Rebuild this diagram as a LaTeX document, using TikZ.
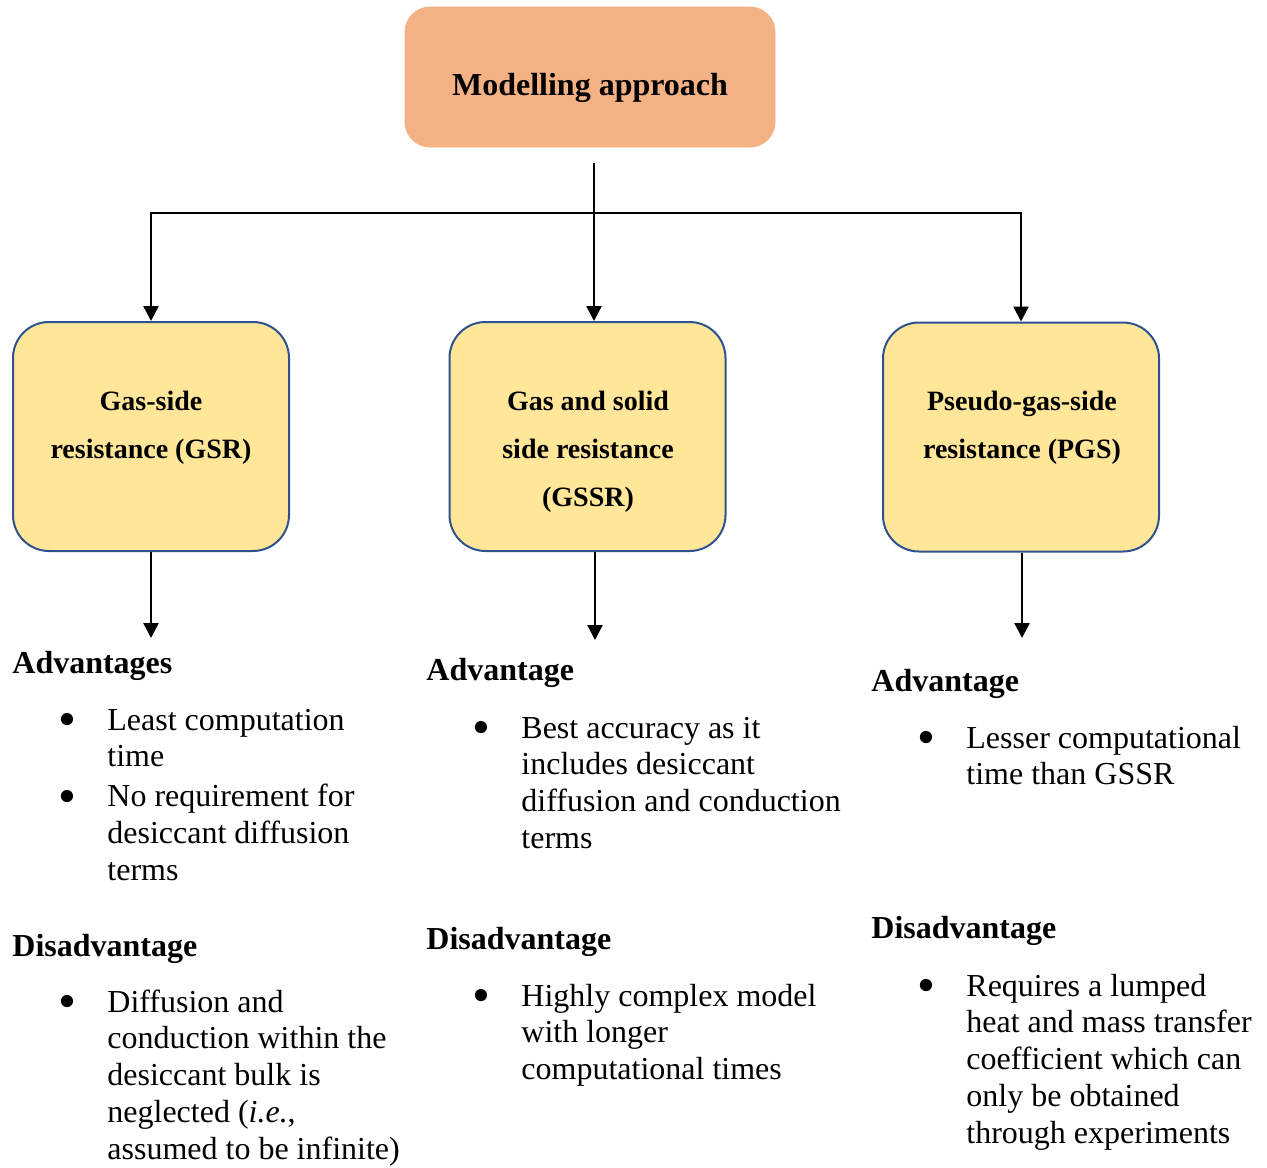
\documentclass[tikz,border=0pt]{standalone}
\usepackage{fontspec}
\setmainfont{Liberation Serif}
\usetikzlibrary{arrows.meta}

\definecolor{rootfill}{HTML}{F4B183}
\definecolor{boxfill}{HTML}{FFE699}
\definecolor{boxline}{HTML}{2F528F}

\def\txt{\fontsize{16}{18.4}\selectfont}
\def\bw{24.5pt}
\def\bul{\raisebox{-0.2em}{\scalebox{1.6}{\textbullet}}}
\tikzstyle{root}=[rectangle,rounded corners=12.5pt,fill=rootfill,draw=rootfill,minimum width=185pt,minimum height=70pt,font=\bfseries\fontsize{16}{19}\selectfont,text height=22pt,text depth=3.5pt]
\tikzstyle{m}=[rectangle,rounded corners=18pt,fill=boxfill,draw=boxline,line width=1pt,minimum width=138pt,minimum height=114.5pt]
\tikzstyle{mt}=[anchor=base,inner sep=0pt,font=\bfseries\fontsize{14}{24}\selectfont]
\tikzstyle{hd}=[anchor=base west,inner sep=0pt,font=\bfseries\txt]
\tikzstyle{lst}=[anchor=base west,inner sep=0pt,font=\txt]
\tikzstyle{arr}=[-{Triangle[width=7.5pt,length=7.5pt]},line width=1.2pt]

\begin{document}
\begin{tikzpicture}[x=0.5pt,y=0.5pt]
	\useasboundingbox (0,0) rectangle (1267,-1167);
	% boxes
	\node[root](root) at (590,-77){Modelling approach};
	\node[m](gsr) at (151,-436.5){};
	\node[m](gssr) at (587.5,-436.5){};
	\node[m](pgs) at (1021,-437){};
	\node[mt](gsrt) at (151,-410){\begin{tabular}[t]{@{}c@{}}Gas-side\\resistance (GSR)\end{tabular}};
	\node[mt](gssrt) at (588,-410){\begin{tabular}[t]{@{}c@{}}Gas and solid\\side resistance\\(GSSR)\end{tabular}};
	\node[mt](pgst) at (1022,-410){\begin{tabular}[t]{@{}c@{}}Pseudo-gas-side\\resistance (PGS)\end{tabular}};
	% connectors
	\coordinate(stem) at (594,-163);
	\coordinate(hub) at (594,-213);
	\coordinate(e1) at (151,-638);
	\coordinate(e2) at (595,-640);
	\coordinate(e3) at (1022,-638);
	\draw[arr](stem)--(stem |- gssr.north);
	\draw[arr](hub)-|(gsr.north);
	\draw[arr](hub)-|(pgs.north);
	\draw[arr](gsr.south)--(e1);
	\draw[arr](gssr.south -| e2)--(e2);
	\draw[arr](pgs.south -| e3)--(e3);
	% column 1
	\node[hd](a1) at (12,-673){Advantages};
	\node[lst](l1) at (58,-730){\begin{tabular}[t]{@{}p{\bw}@{}l@{}}\bul & Least computation\\ & time\\[1.6pt]\bul & No requirement for\\ & desiccant diffusion\\ & terms\end{tabular}};
	\node[hd](d1) at (12,-956){Disadvantage};
	\node[lst](k1) at (58,-1012){\begin{tabular}[t]{@{}p{\bw}@{}l@{}}\bul & Diffusion and\\ & conduction within the\\ & desiccant bulk is\\ & neglected (\textit{i.e.},\\ & assumed to be infinite)\end{tabular}};
	% column 2
	\node[hd](a2) at (426,-680){Advantage};
	\node[lst](l2) at (472,-738){\begin{tabular}[t]{@{}p{\bw}@{}l@{}}\bul & Best accuracy as it\\ & includes desiccant\\ & diffusion and conduction\\ & terms\end{tabular}};
	\node[hd](d2) at (426,-949){Disadvantage};
	\node[lst](k2) at (472,-1006){\begin{tabular}[t]{@{}p{\bw}@{}l@{}}\bul & Highly complex model\\ & with longer\\ & computational times\end{tabular}};
	% column 3
	\node[hd](a3) at (871,-691){Advantage};
	\node[lst](l3) at (917,-748){\begin{tabular}[t]{@{}p{\bw}@{}l@{}}\bul & Lesser computational\\ & time than GSSR\end{tabular}};
	\node[hd](d3) at (871,-938){Disadvantage};
	\node[lst](k3) at (917,-996){\begin{tabular}[t]{@{}p{\bw}@{}l@{}}\bul & Requires a lumped\\ & heat and mass transfer\\ & coefficient which can\\ & only be obtained\\ & through experiments\end{tabular}};
\end{tikzpicture}
\end{document}
